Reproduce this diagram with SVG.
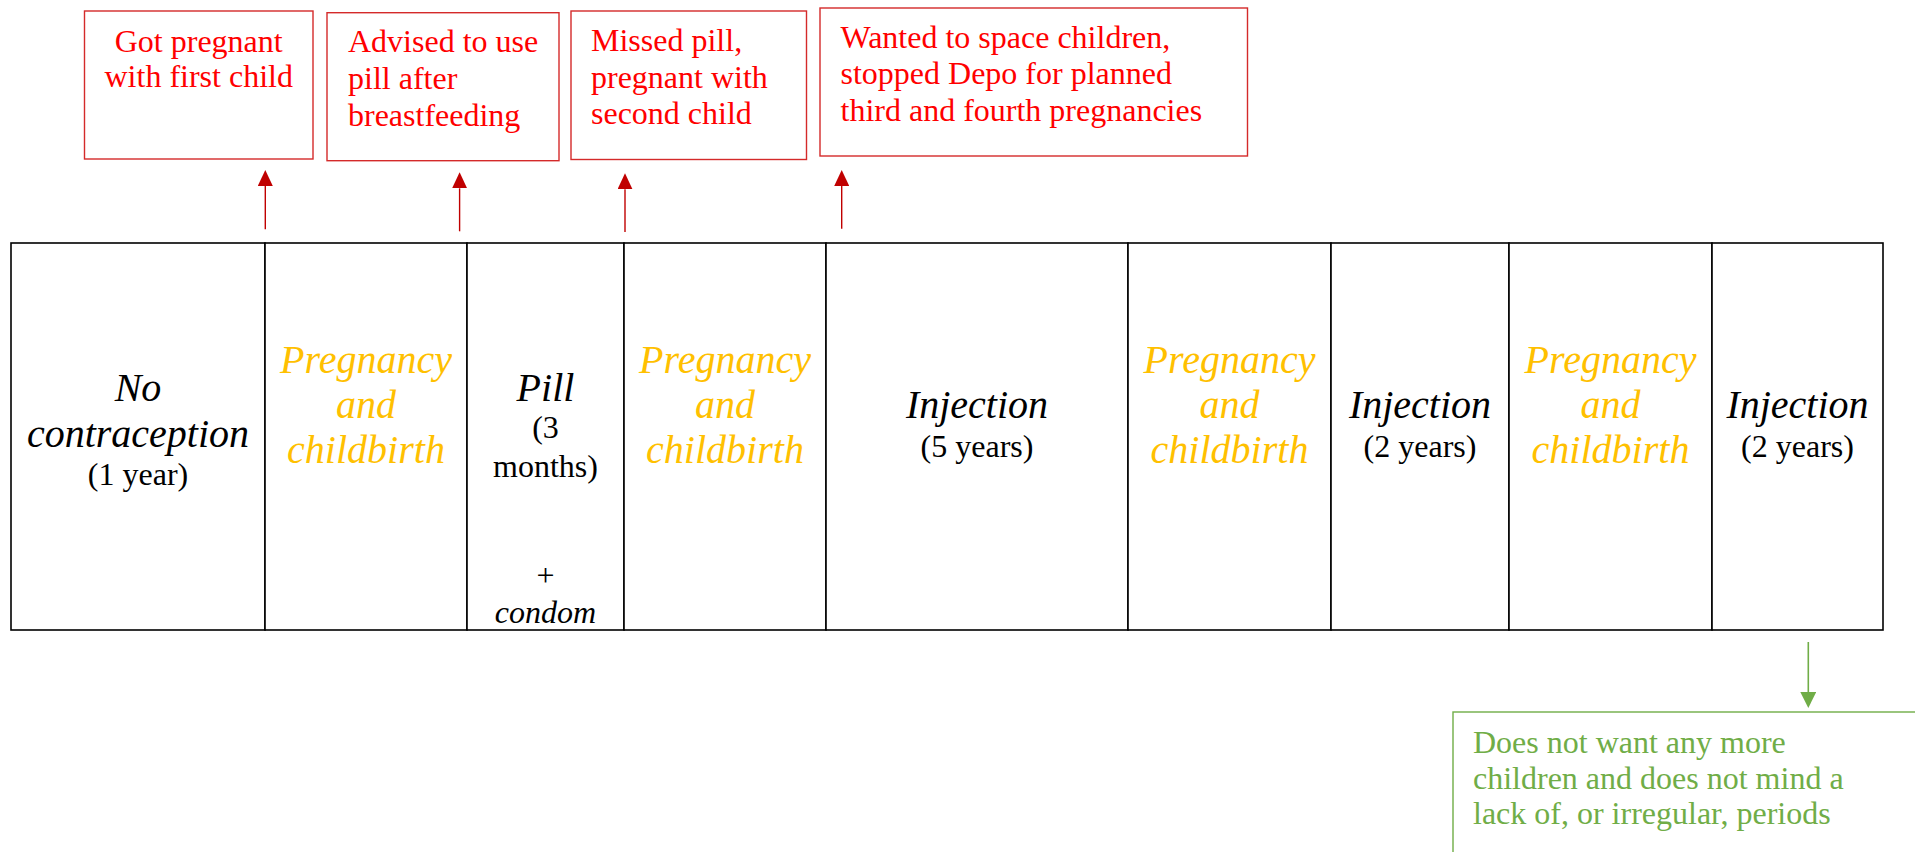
<svg xmlns="http://www.w3.org/2000/svg" width="1915" height="852" viewBox="0 0 1915 852">
  <style>
    .note { fill: #ffffff; stroke: #D42A2A; stroke-width: 1.4; }
    .note-text { font-family: "Liberation Serif", "Times New Roman", serif; font-size: 32px; fill: #FF0000; }
    .goal { fill: #ffffff; stroke: #70AD47; stroke-width: 1.4; }
    .goal-text { font-family: "Liberation Serif", "Times New Roman", serif; font-size: 32px; fill: #70AD47; }
    .cell { fill: #ffffff; stroke: #000000; stroke-width: 1.6; }
    .method { font-family: "Liberation Serif", "Times New Roman", serif; font-style: italic; font-size: 40px; fill: #000000; text-anchor: middle; }
    .preg { font-family: "Liberation Serif", "Times New Roman", serif; font-style: italic; font-size: 40px; fill: #FFC000; text-anchor: middle; }
    .dur { font-family: "Liberation Serif", "Times New Roman", serif; font-size: 32px; fill: #000000; text-anchor: middle; }
    .dur-i { font-family: "Liberation Serif", "Times New Roman", serif; font-style: italic; font-size: 32px; fill: #000000; text-anchor: middle; }
    .red-link { stroke: #C00000; stroke-width: 1.4; fill: none; }
    .green-link { stroke: #70AD47; stroke-width: 1.6; fill: none; }
  </style>
  <defs>
    <marker id="head-red" markerUnits="userSpaceOnUse" markerWidth="16" markerHeight="15" refX="0" refY="7.5" orient="auto">
      <path d="M0,0 L16,7.5 L0,15 Z" fill="#C00000"/>
    </marker>
    <marker id="head-green" markerUnits="userSpaceOnUse" markerWidth="16" markerHeight="16" refX="0" refY="8" orient="auto">
      <path d="M0,0 L16,8 L0,16 Z" fill="#70AD47"/>
    </marker>
  </defs>

  <rect width="1915" height="852" fill="#ffffff"/>

  <!-- timeline cells -->
  <g id="cell-no-contraception">
    <rect class="cell" x="11" y="243" width="254" height="387"/>
    <text class="method" x="138" y="401">No</text>
    <text class="method" x="138" y="447">contraception</text>
    <text class="dur" x="138" y="485">(1 year)</text>
  </g>
  <g id="cell-pregnancy-1">
    <rect class="cell" x="265" y="243" width="202" height="387"/>
    <text class="preg" x="366" y="373">Pregnancy</text>
    <text class="preg" x="366" y="418">and</text>
    <text class="preg" x="366" y="463">childbirth</text>
  </g>
  <g id="cell-pill">
    <rect class="cell" x="467" y="243" width="157" height="387"/>
    <text class="method" x="545.5" y="401">Pill</text>
    <text class="dur" x="545.5" y="438">(3</text>
    <text class="dur" x="545.5" y="477">months)</text>
    <text class="dur" x="545.5" y="586">+</text>
    <text class="dur-i" x="545.5" y="623">condom</text>
  </g>
  <g id="cell-pregnancy-2">
    <rect class="cell" x="624" y="243" width="202" height="387"/>
    <text class="preg" x="725" y="373">Pregnancy</text>
    <text class="preg" x="725" y="418">and</text>
    <text class="preg" x="725" y="463">childbirth</text>
  </g>
  <g id="cell-injection-5y">
    <rect class="cell" x="826" y="243" width="302" height="387"/>
    <text class="method" x="977" y="418">Injection</text>
    <text class="dur" x="977" y="457">(5 years)</text>
  </g>
  <g id="cell-pregnancy-3">
    <rect class="cell" x="1128" y="243" width="203" height="387"/>
    <text class="preg" x="1229.5" y="373">Pregnancy</text>
    <text class="preg" x="1229.5" y="418">and</text>
    <text class="preg" x="1229.5" y="463">childbirth</text>
  </g>
  <g id="cell-injection-2y-a">
    <rect class="cell" x="1331" y="243" width="178" height="387"/>
    <text class="method" x="1420" y="418">Injection</text>
    <text class="dur" x="1420" y="457">(2 years)</text>
  </g>
  <g id="cell-pregnancy-4">
    <rect class="cell" x="1509" y="243" width="203" height="387"/>
    <text class="preg" x="1610.5" y="373">Pregnancy</text>
    <text class="preg" x="1610.5" y="418">and</text>
    <text class="preg" x="1610.5" y="463">childbirth</text>
  </g>
  <g id="cell-injection-2y-b">
    <rect class="cell" x="1712" y="243" width="171" height="387"/>
    <text class="method" x="1797.5" y="418">Injection</text>
    <text class="dur" x="1797.5" y="457">(2 years)</text>
  </g>

  <!-- event notes -->
  <g id="note-first-child">
    <rect class="note" x="84.5" y="11" width="228.5" height="148"/>
    <text class="note-text" x="198.7" y="52" text-anchor="middle">Got pregnant</text>
    <text class="note-text" x="198.7" y="87" text-anchor="middle">with first child</text>
  </g>
  <g id="note-advised-pill">
    <rect class="note" x="327" y="12.7" width="232" height="148"/>
    <text class="note-text" x="348" y="52">Advised to use</text>
    <text class="note-text" x="348" y="89">pill after</text>
    <text class="note-text" x="348" y="126">breastfeeding</text>
  </g>
  <g id="note-missed-pill">
    <rect class="note" x="571" y="11" width="235.5" height="148.5"/>
    <text class="note-text" x="591" y="51">Missed pill,</text>
    <text class="note-text" x="591" y="87.5">pregnant with</text>
    <text class="note-text" x="591" y="124">second child</text>
  </g>
  <g id="note-spacing">
    <rect class="note" x="820" y="8" width="427.5" height="148"/>
    <text class="note-text" x="840.5" y="47.5">Wanted to space children,</text>
    <text class="note-text" x="840.5" y="84">stopped Depo for planned</text>
    <text class="note-text" x="840.5" y="120.5">third and fourth pregnancies</text>
  </g>
  <g id="note-no-more-children">
    <rect class="goal" x="1453" y="712" width="500" height="200"/>
    <text class="goal-text" x="1473" y="753">Does not want any more</text>
    <text class="goal-text" x="1473" y="788.5">children and does not mind a</text>
    <text class="goal-text" x="1473" y="824">lack of, or irregular, periods</text>
  </g>

  <!-- connectors -->
  <g id="connectors">
    <line class="red-link" x1="265.3" y1="229.3" x2="265.3" y2="186" marker-end="url(#head-red)"/>
    <line class="red-link" x1="459.6" y1="231.3" x2="459.6" y2="188.3" marker-end="url(#head-red)"/>
    <line class="red-link" x1="625" y1="232" x2="625" y2="189.3" marker-end="url(#head-red)"/>
    <line class="red-link" x1="841.7" y1="228.7" x2="841.7" y2="186" marker-end="url(#head-red)"/>
    <line class="green-link" x1="1808.3" y1="642" x2="1808.3" y2="692" marker-end="url(#head-green)"/>
  </g>
</svg>
